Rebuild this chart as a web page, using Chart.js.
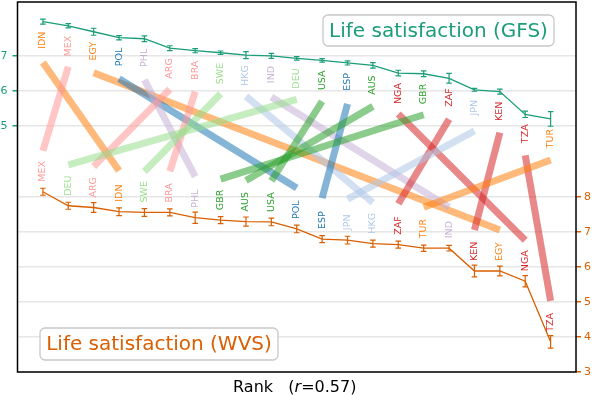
<!DOCTYPE html>
<html>
<head>
<meta charset="utf-8">
<script src="https://cdn.jsdelivr.net/npm/chart.js@4"></script>
<style>
  html, body { margin: 0; padding: 0; background: #fff; }
  canvas { display: block; }
</style>
</head>
<body>
<canvas id="rankChart" width="595" height="395"></canvas>
<script>
// Data: countries in rank order for each survey
const gfsCountries = ['IDN', 'MEX', 'EGY', 'POL', 'PHL', 'ARG', 'BRA', 'SWE', 'HKG', 'IND', 'DEU',
  'USA', 'ESP', 'AUS', 'NGA', 'GBR', 'ZAF', 'JPN', 'KEN', 'TZA', 'TUR'];
const gfsValues = [7.98, 7.86, 7.69, 7.52, 7.49, 7.22, 7.15, 7.09, 7.02, 7.00, 6.93,
  6.87, 6.80, 6.73, 6.51, 6.49, 6.36, 6.03, 5.98, 5.33, 5.20];
const gfsErrors = [0.07, 0.06, 0.10, 0.06, 0.08, 0.07, 0.06, 0.05, 0.10, 0.07, 0.05,
  0.05, 0.06, 0.08, 0.08, 0.08, 0.14, 0.04, 0.07, 0.09, 0.21];

const wvsCountries = ['MEX', 'DEU', 'ARG', 'IDN', 'SWE', 'BRA', 'PHL', 'GBR', 'AUS', 'USA', 'POL',
  'ESP', 'JPN', 'HKG', 'ZAF', 'TUR', 'IND', 'KEN', 'EGY', 'NGA', 'TZA'];
const wvsValues = [8.14, 7.74, 7.69, 7.57, 7.55, 7.55, 7.40, 7.33, 7.29, 7.28, 7.08,
  6.79, 6.76, 6.66, 6.63, 6.53, 6.53, 5.88, 5.88, 5.59, 3.86];
const wvsErrors = [0.10, 0.10, 0.14, 0.11, 0.11, 0.10, 0.16, 0.10, 0.13, 0.11, 0.11,
  0.10, 0.11, 0.10, 0.10, 0.09, 0.08, 0.17, 0.14, 0.16, 0.18];

const gfsTicks = [5, 6, 7];
const wvsTicks = [3, 4, 5, 6, 7, 8];
const correlation = '0.57';

// Styles
const FONT = "'DejaVu Sans', sans-serif";
const GFS_COLOR = '#1b9e77';
const WVS_COLOR = '#d95f02';
const countryColors = {
  IDN: '#ff7f0e', EGY: '#ff7f0e', TUR: '#ff7f0e',
  MEX: '#ff9896', ARG: '#ff9896', BRA: '#ff9896',
  POL: '#1f77b4', ESP: '#1f77b4',
  PHL: '#c5b0d5', IND: '#c5b0d5',
  SWE: '#98df8a', DEU: '#98df8a',
  HKG: '#aec7e8', JPN: '#aec7e8',
  USA: '#2ca02c', AUS: '#2ca02c', GBR: '#2ca02c',
  NGA: '#d62728', ZAF: '#d62728', KEN: '#d62728', TZA: '#d62728'
};
const LINE_GAP = 41;   // px between a point and its slope line end
const LABEL_GAP = 10;  // px between a point and its country label

// draw error bars for one series
function drawErrorBars(ctx, xs, ys, values, errors, color) {
  ctx.save();
  ctx.strokeStyle = color;
  ctx.lineWidth = 1.2;
  values.forEach((v, i) => {
    const px = xs.getPixelForValue(i + 1);
    const top = ys.getPixelForValue(v + errors[i]);
    const bot = ys.getPixelForValue(v - errors[i]);
    ctx.beginPath();
    ctx.moveTo(px, top); ctx.lineTo(px, bot);
    ctx.moveTo(px - 2.8, top); ctx.lineTo(px + 2.8, top);
    ctx.moveTo(px - 2.8, bot); ctx.lineTo(px + 2.8, bot);
    ctx.stroke();
  });
  ctx.restore();
}

// rotated country label, below (dir=1) or above (dir=-1) the point
function drawLabel(ctx, text, px, py, dir) {
  ctx.save();
  ctx.translate(px, py + dir * LABEL_GAP);
  ctx.rotate(-Math.PI / 2);
  ctx.font = '9.5px ' + FONT;
  ctx.fillStyle = countryColors[text];
  ctx.textBaseline = 'middle';
  ctx.textAlign = dir > 0 ? 'right' : 'left';
  ctx.fillText(text, 0, 0);
  ctx.restore();
}

function drawBox(ctx, text, x, y, w, h, color) {
  ctx.save();
  ctx.beginPath();
  ctx.roundRect(x, y, w, h, 5);
  ctx.fillStyle = 'rgba(255,255,255,0.85)';
  ctx.fill();
  ctx.strokeStyle = '#c8c8c8';
  ctx.lineWidth = 1.3;
  ctx.stroke();
  ctx.font = '20px ' + FONT;
  ctx.fillStyle = color;
  ctx.textAlign = 'center';
  ctx.textBaseline = 'middle';
  ctx.fillText(text, x + w / 2, y + h / 2 + 1);
  ctx.restore();
}

const decor = {
  id: 'decor',
  beforeDatasetsDraw(chart) {
    const { ctx, scales: { x, yL, yR } } = chart;
    ctx.save();
    ctx.lineWidth = 7;
    ctx.lineCap = 'butt';
    ctx.globalAlpha = 0.55;
    gfsCountries.forEach((c, i) => {
      const j = wvsCountries.indexOf(c);
      const x1 = x.getPixelForValue(i + 1);
      const y1 = yL.getPixelForValue(gfsValues[i]) + LINE_GAP;
      const x2 = x.getPixelForValue(j + 1);
      const y2 = yR.getPixelForValue(wvsValues[j]) - LINE_GAP;
      ctx.strokeStyle = countryColors[c];
      ctx.beginPath();
      ctx.moveTo(x1, y1);
      ctx.lineTo(x2, y2);
      ctx.stroke();
    });
    ctx.restore();
  },
  afterDatasetsDraw(chart) {
    const { ctx, scales: { x, yL, yR } } = chart;
    drawErrorBars(ctx, x, yL, gfsValues, gfsErrors, GFS_COLOR);
    drawErrorBars(ctx, x, yR, wvsValues, wvsErrors, WVS_COLOR);
    gfsCountries.forEach((c, i) => {
      drawLabel(ctx, c, x.getPixelForValue(i + 1), yL.getPixelForValue(gfsValues[i]), 1);
    });
    wvsCountries.forEach((c, i) => {
      drawLabel(ctx, c, x.getPixelForValue(i + 1), yR.getPixelForValue(wvsValues[i]), -1);
    });
  },
  afterDraw(chart) {
    const { ctx, chartArea: a } = chart;
    // frame
    ctx.save();
    ctx.strokeStyle = '#000';
    ctx.lineWidth = 1.5;
    ctx.strokeRect(a.left, a.top, a.right - a.left, a.bottom - a.top);
    ctx.restore();

    drawBox(ctx, 'Life satisfaction (GFS)', a.right - 253, a.top + 13, 231, 31, GFS_COLOR);
    drawBox(ctx, 'Life satisfaction (WVS)', a.left + 22.5, a.bottom - 44, 238, 32, WVS_COLOR);

    // x axis title with italic r
    ctx.save();
    ctx.fillStyle = '#000';
    ctx.textBaseline = 'alphabetic';
    const p1 = 'Rank   (', p2 = 'r', p3 = '=' + correlation + ')';
    ctx.font = '16px ' + FONT;
    const w1 = ctx.measureText(p1).width, w3 = ctx.measureText(p3).width;
    ctx.font = 'italic 16px ' + FONT;
    const w2 = ctx.measureText(p2).width;
    let tx = (a.left + a.right) / 2 - 2 - (w1 + w2 + w3) / 2;
    const ty = a.bottom + 19.5;
    ctx.font = '16px ' + FONT;
    ctx.fillText(p1, tx, ty); tx += w1;
    ctx.font = 'italic 16px ' + FONT;
    ctx.fillText(p2, tx, ty); tx += w2;
    ctx.font = '16px ' + FONT;
    ctx.fillText(p3, tx, ty);
    ctx.restore();
  }
};

// fixed axis box: no extra label padding above/below the plot
function fitAxis(width) {
  return s => {
    s.width = width;
    s.paddingTop = 0;
    s.paddingBottom = 0;
  };
}

const ctx = document.getElementById('rankChart').getContext('2d');
new Chart(ctx, {
  type: 'line',
  data: {
    datasets: [{
      label: 'GFS',
      data: gfsValues.map((v, i) => ({ x: i + 1, y: v })),
      yAxisID: 'yL',
      borderColor: GFS_COLOR,
      borderWidth: 1.3,
      pointRadius: 0,
      tension: 0
    }, {
      label: 'WVS',
      data: wvsValues.map((v, i) => ({ x: i + 1, y: v })),
      yAxisID: 'yR',
      borderColor: WVS_COLOR,
      borderWidth: 1.3,
      pointRadius: 0,
      tension: 0
    }]
  },
  options: {
    responsive: false,
    animation: false,
    devicePixelRatio: 1,
    layout: { padding: { top: 2, bottom: 23, left: 0, right: 0 } },
    plugins: { legend: { display: false }, tooltip: { enabled: false } },
    scales: {
      x: { type: 'linear', min: 0, max: 22, display: false },
      yL: {
        position: 'left', min: -2.03, max: 8.54,
        afterBuildTicks: s => { s.ticks = gfsTicks.map(v => ({ value: v })); },
        afterFit: fitAxis(17.5),
        border: { display: false },
        grid: { color: '#e6e6e6', lineWidth: 1.5, tickColor: GFS_COLOR, tickLength: 5, tickWidth: 1.5 },
        ticks: { color: GFS_COLOR, padding: 5, font: { family: FONT, size: 11 } }
      },
      yR: {
        position: 'right', min: 3, max: 13.55,
        afterBuildTicks: s => { s.ticks = wvsTicks.map(v => ({ value: v })); },
        afterFit: fitAxis(19),
        border: { display: false },
        grid: { color: '#e6e6e6', lineWidth: 1.5, tickColor: WVS_COLOR, tickLength: 5, tickWidth: 1.5 },
        ticks: { color: WVS_COLOR, padding: 3, font: { family: FONT, size: 11 } }
      }
    }
  },
  plugins: [decor]
});
</script>
</body>
</html>
